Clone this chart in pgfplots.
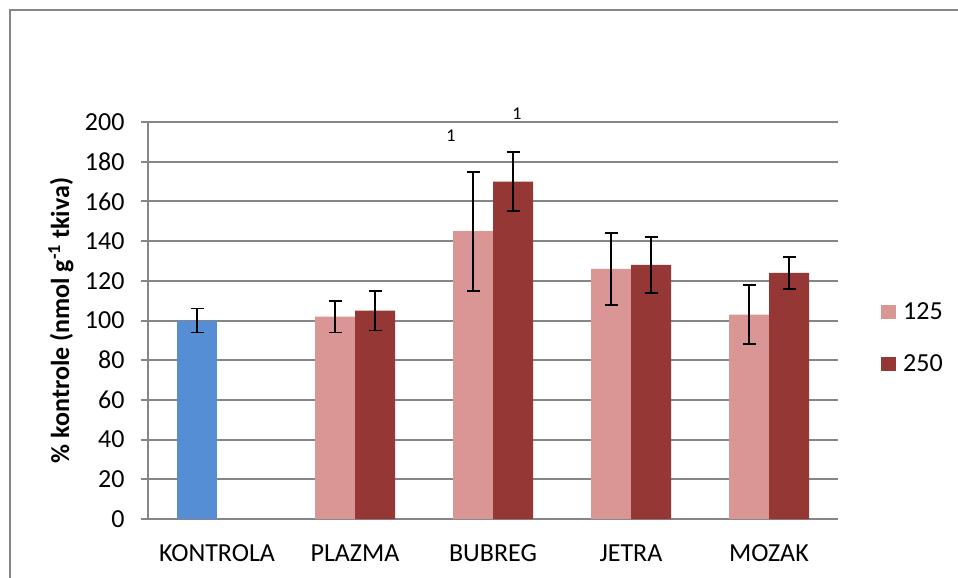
\documentclass[border=0pt]{standalone}
\usepackage{fontspec}
\setmainfont{Carlito}
\usepackage{pgfplots}
\pgfplotsset{compat=1.18}
\definecolor{ctrlblue}{HTML}{558ED5}
\definecolor{lightred}{HTML}{D99694}
\definecolor{darkred}{HTML}{953735}
\definecolor{gridgray}{HTML}{868686}

\begin{document}
\begin{tikzpicture}
\useasboundingbox (0pt,0pt) rectangle (958pt,-578pt);
\draw[gridgray, line width=1.5pt] (10pt,-600pt) -- (10pt,-10pt) -- (980pt,-10pt);
\begin{axis}[
	at={(148pt,-519pt)}, anchor=south west,
	scale only axis, width=690pt, height=397pt,
	ybar, bar width=40pt,
	xmin=-0.5, xmax=4.5, ymin=0, ymax=200,
	ytick={0,20,...,200},
	xtick={0,...,4},
	xticklabels={KONTROLA,PLAZMA,BUBREG,JETRA,MOZAK},
	minor xtick={-0.5,0.5,1.5,2.5,3.5,4.5},
	xtick style={draw=none},
	minor x tick style={gridgray, line width=2pt},
	y tick style={gridgray, line width=2pt},
	tick align=outside,
	major tick length=7pt, minor tick length=7pt,
	ymajorgrids, grid style={gridgray, line width=2pt},
	axis lines*=left,
	axis line style={gridgray, line width=2pt, -},
	tick label style={font=\fontsize{26}{31}\selectfont},
	yticklabel style={xshift=-13pt},
	xticklabel style={yshift=-15pt},
	/pgf/number format/assume math mode=true,
	ylabel={\textbf{\% kontrole (nmol g\textsuperscript{-1} tkiva)}},
	ylabel style={at={(axis description cs:-0.1261,0.5)}, anchor=center, font=\fontsize{26}{31}\selectfont},
	clip=false,
	legend style={at={(axis description cs:1.0623,0.456)}, anchor=west,
		draw=none, fill=none, inner sep=0pt, row sep=29pt,
		font=\fontsize{26}{31}\selectfont},
	legend image code/.code={\fill[#1] (0pt,-7pt) rectangle (15pt,7pt); \path (20pt,0pt);},
	error bars/y dir=both, error bars/y explicit,
	error bars/error bar style={black, line width=1.8pt},
	error bars/error mark options={black, rotate=90, mark size=6.5pt, line width=1.8pt},
]
\addplot[fill=ctrlblue, draw=none, bar shift=-20pt, forget plot]
	coordinates {(0,100) +- (0,6)};
\addplot[fill=lightred, draw=none, bar shift=-20pt]
	coordinates {(1,102) +- (0,8) (2,145) +- (0,30) (3,126) +- (0,18) (4,103) +- (0,15)};
\addplot[fill=darkred, draw=none, bar shift=20pt]
	coordinates {(1,105) +- (0,10) (2,170) +- (0,15) (3,128) +- (0,14) (4,124) +- (0,8)};
\legend{125, 250}
\node[font=\fontsize{18}{20}\selectfont] at (axis cs:1.696,193.1) {1};
\node[font=\fontsize{18}{20}\selectfont] at (axis cs:2.174,204.4) {1};
\end{axis}
\end{tikzpicture}
\end{document}
